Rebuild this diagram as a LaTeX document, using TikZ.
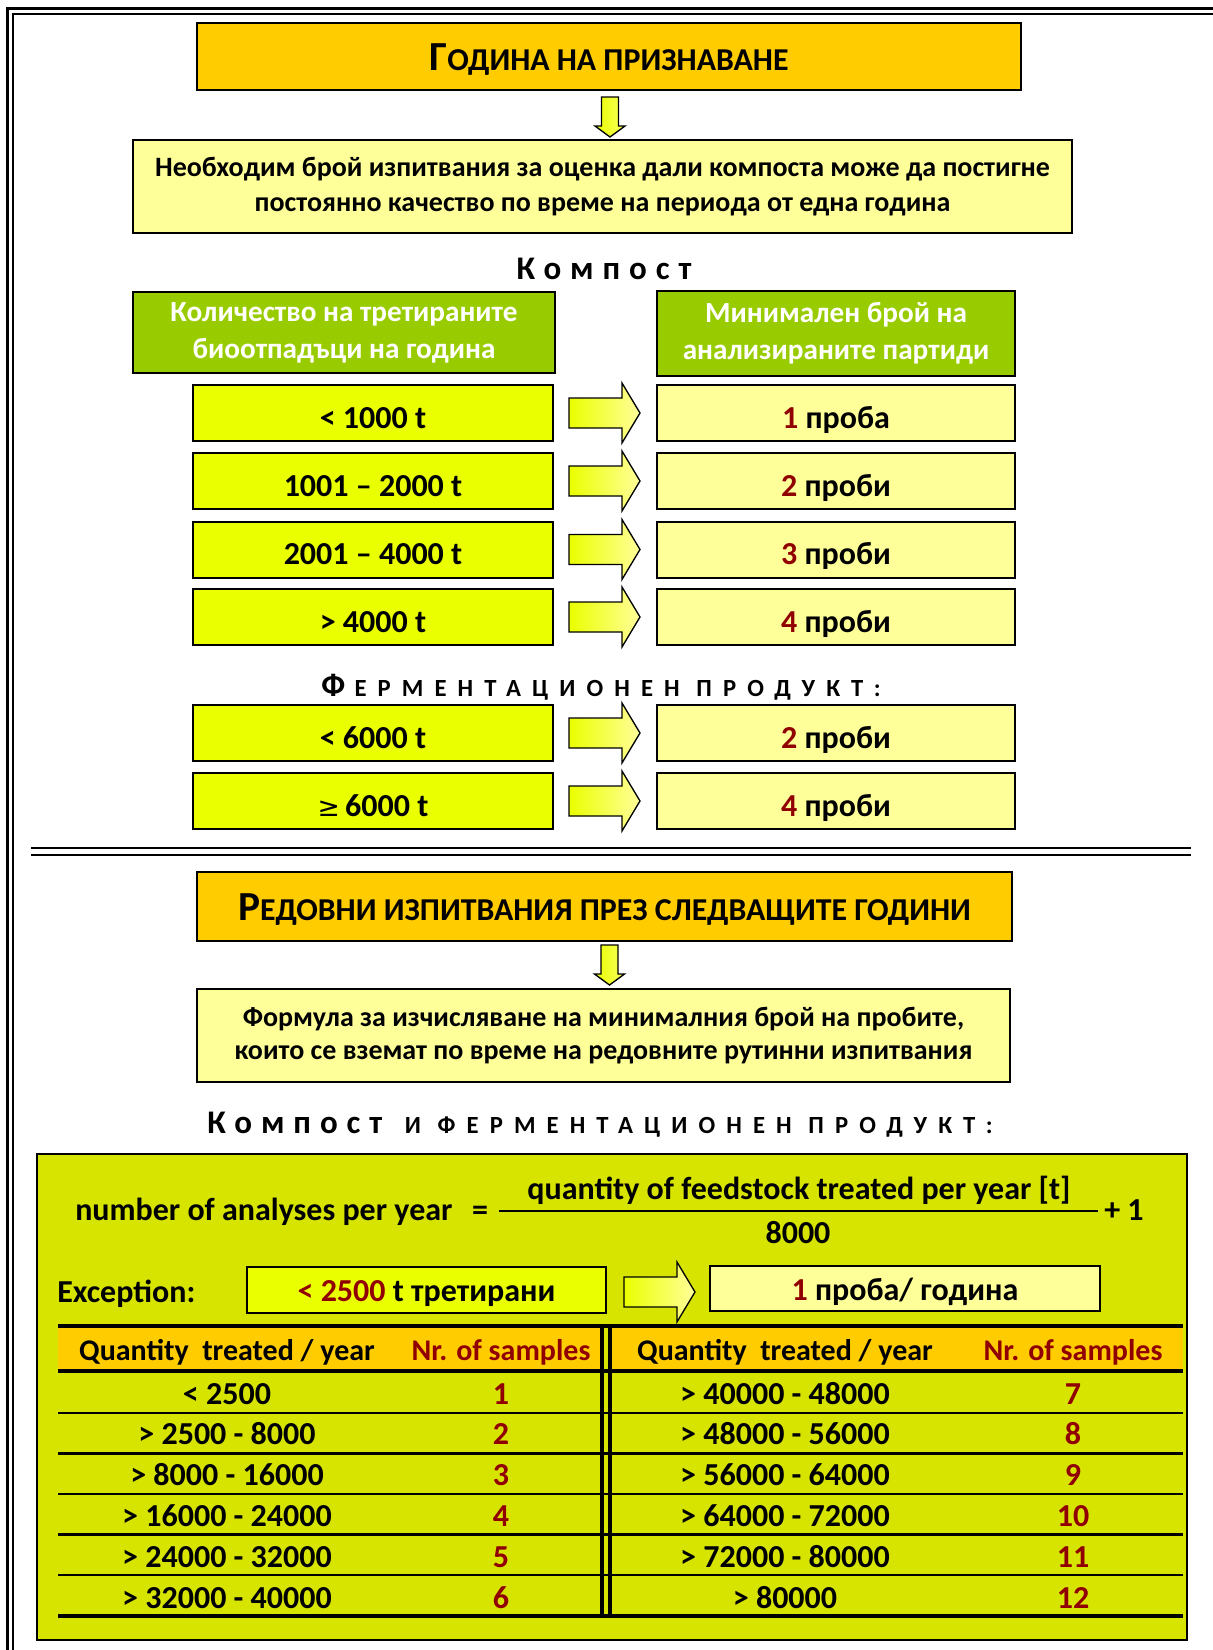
\documentclass[tikz,border=0pt]{standalone}
\usepackage{fontspec}
\setmainfont{Carlito}
\usetikzlibrary{calc}
\definecolor{orangeY}{HTML}{FFCC00}
\definecolor{grn}{HTML}{99CC00}
\definecolor{lyel}{HTML}{FFFF99}
\definecolor{byel}{HTML}{EAFF00}
\definecolor{lime}{HTML}{D7E400}
\definecolor{dred}{HTML}{900000}
\newcommand\fsz[2]{\fontsize{#1}{#2}\selectfont}
\tikzset{
  bx/.style={draw=black, line width=1.5pt, inner sep=0pt, font=\bfseries, align=center},
  sz/.style 2 args={minimum width=#1*0.75pt, minimum height=#2*0.75pt},
  ttlbox/.style={bx, fill=orangeY, text height=21.5pt, text depth=0pt, font=\bfseries\fsz{31pt}{34pt}},
  lybox/.style={bx, fill=lyel},
  grbox/.style={bx, fill=grn, text=white, font=\bfseries\fsz{21.9pt}{27.75pt}},
  rowl/.style={bx, fill=byel, text height=22.5pt, text depth=0pt, sz={360}{56}, font=\bfseries\fsz{24pt}{28pt}},
  rowr/.style={bx, fill=lyel, text height=22.5pt, text depth=0pt, sz={358}{56}, font=\bfseries\fsz{24pt}{28pt}},
  txt/.style={inner sep=0pt, font=\bfseries\fsz{24pt}{28pt}},
  rarr/.pic={\path[draw=black, line width=1pt, left color=byel, right color=lyel]
      (0,-15) -- (53,-15) -- (53,-30) -- (71,0) -- (53,30) -- (53,15) -- (0,15) -- cycle;},
  darr/.pic={\path[draw=black, line width=1pt, left color=byel, right color=lyel!60!byel]
      (-8.5,0) -- (-8.5,29) -- (-15,29) -- (0,40) -- (15,29) -- (8.5,29) -- (8.5,0) -- cycle;}
}
\begin{document}
\begin{tikzpicture}[x=0.75pt,y=-0.75pt]
\useasboundingbox (0,0) rectangle (1213,1650);
% outer frame
\draw[line width=2.25pt] (7.5,1650) -- (7.5,8.5) -- (1213,8.5);
\draw[line width=1.5pt] (12.5,1650) -- (12.5,14) -- (1213,14);

% ---------- section 1
\node[ttlbox, sz={824}{67}] (t1) at (609,56.5)
  {Г\fsz{23.9pt}{34pt}ОДИНА НА ПРИЗНАВАНЕ};
\pic at ($(t1.south)+(1,6)$) {darr};
\node[lybox, sz={939}{93}, font=\bfseries\fsz{21pt}{26.25pt}] (b2) at (602.5,186.5)
  {Необходим брой изпитвания за оценка дали компоста може да постигне\\
   постоянно качество по време на периода от една година};

\node[anchor=base, inner sep=0pt, font=\bfseries\fsz{24.75pt}{30pt}\addfontfeature{LetterSpace=27}] (hk) at (604,279) {Компост};

\node[grbox, sz={422}{81}] (gl) at (344,332.5)
  {Количество на третираните\\биоотпадъци на година};
\node[grbox, sz={358}{85}] (gr) at (836,333.5)
  {Минимален брой на\\анализираните партиди};

\node[rowl] (l1) at (373,413) {< 1000 t};
\node[rowl] (l2) at (373,481) {1001 – 2000 t};
\node[rowl] (l3) at (373,549.5) {2001 – 4000 t};
\node[rowl] (l4) at (373,617) {> 4000 t};
\node[rowr] (r1) at (836,413) {{\color{dred}1} проба};
\node[rowr] (r2) at (836,481) {{\color{dred}2} проби};
\node[rowr] (r3) at (836,549.5) {{\color{dred}3} проби};
\node[rowr] (r4) at (836,617) {{\color{dred}4} проби};

\node[anchor=base, inner sep=0pt, font=\bfseries\addfontfeature{LetterSpace=45}] (hf) at (601,696)
  {\fsz{24.75pt}{30pt}Ф\hspace{7pt}\fsz{18.5pt}{30pt}ЕРМЕНТАЦИОНЕН ПРОДУКТ:};

\node[rowl] (l5) at (373,733) {< 6000 t};
\node[rowl] (l6) at (373,801) {{\fontspec{DejaVu Sans}\mdseries\fsz{20pt}{28pt}≥}\,6000 t};
\node[rowr] (r5) at (836,733) {{\color{dred}2} проби};
\node[rowr] (r6) at (836,801) {{\color{dred}4} проби};

\foreach \i in {1,...,6}{\pic at ($(l\i.east)+(15,0)$) {rarr};}

% separator
\draw[line width=1.9pt] (31,848) -- (1191,848);
\draw[line width=1.9pt] (31,855) -- (1191,855);

% ---------- section 2
\node[ttlbox, sz={815}{69}] (t2) at (604.5,906.5)
  {Р\fsz{23.9pt}{34pt}ЕДОВНИ ИЗПИТВАНИЯ ПРЕЗ СЛЕДВАЩИТЕ ГОДИНИ};
\pic at ($(t2.south)+(5,3)$) {darr};
\node[lybox, sz={813}{93}, font=\bfseries\fsz{21pt}{24.75pt}] (b4) at (603.5,1035.5)
  {Формула за изчисляване на минималния брой на пробите,\\
   които се вземат по време на редовните рутинни изпитвания};

\node[anchor=base, inner sep=0pt, font=\bfseries] (h3) at (600,1133)
  {{\fsz{24.75pt}{30pt}\addfontfeature{LetterSpace=27}Компост}\hspace{17pt}{\fsz{18.5pt}{30pt}\addfontfeature{LetterSpace=45}И ФЕРМЕНТАЦИОНЕН ПРОДУКТ:}};

\node[draw=black, line width=1.5pt, fill=lime, sz={1150}{486}] (gbox) at (612,1397) {};

% formula
\node[txt, anchor=base west] (fl) at (75,1220) {number of analyses per year};
\node[txt, anchor=base] (feq) at (480,1220) {=};
\coordinate (fa) at (499,1211);
\coordinate (fb) at (1098,1211);
\draw[line width=1.5pt] (fa) -- (fb);
\node[txt, anchor=base] (fnum) at (799,1199) {quantity of feedstock treated per year [t]};
\node[txt, anchor=base] (fden) at (798,1243) {8000};
\node[txt, anchor=base west] (fplus) at (1104,1220) {+ 1};

% exception
\node[txt, anchor=base west] (exc) at (57,1302) {Exception:};
\node[bx, fill=byel, text height=17.5pt, text depth=0pt, sz={359}{46}, font=\bfseries\fsz{24pt}{28pt}] (el) at (426.5,1290)
  {{\color{dred}< 2500} t третирани};
\node[bx, fill=lyel, text height=17.5pt, text depth=0pt, sz={390}{45}, font=\bfseries\fsz{24pt}{28pt}] (er) at (905,1288.5)
  {{\color{dred}1} проба/ година};
\pic at ($(el.east)+(17,2)$) {rarr};

% table
\fill[orangeY] (58,1326) rectangle (601,1370);
\fill[orangeY] (611,1326) rectangle (1183,1370);
\draw[line width=3pt] (58,1325.5) -- (1183,1325.5);
\draw[line width=3pt] (58,1371) -- (1183,1371);
\foreach \yy in {1413,1453.5,1494,1534.5,1575}{\draw[line width=1.9pt] (58,\yy) -- (1183,\yy);}
\draw[line width=3.5pt] (58,1616) -- (1183,1616);
\draw[line width=3pt] (602,1324) -- (602,1618);
\draw[line width=2.6pt] (610,1324) -- (610,1618);

\node[txt, font=\bfseries\fsz{22.5pt}{28pt}, anchor=base] (hq1) at (227,1360) {Quantity\ \ treated / year};
\node[txt, font=\bfseries\fsz{22.5pt}{28pt}, anchor=base, text=dred] (hn1) at (501,1360) {Nr. of samples};
\node[txt, font=\bfseries\fsz{22.5pt}{28pt}, anchor=base] (hq2) at (785,1360) {Quantity\ \ treated / year};
\node[txt, font=\bfseries\fsz{22.5pt}{28pt}, anchor=base, text=dred] (hn2) at (1073,1360) {Nr. of samples};

\foreach \i/\q/\n in {1/{< 2500}/1, 2/{> 2500 - 8000}/2, 3/{> 8000 - 16000}/3,
                      4/{> 16000 - 24000}/4, 5/{> 24000 - 32000}/5, 6/{> 32000 - 40000}/6}{
  \node[txt, anchor=base] (lq\i) at (227,{1404+40.8*(\i-1)}) {\q};
  \node[txt, anchor=base, text=dred] (ln\i) at (501,{1404+40.8*(\i-1)}) {\n};
}
\foreach \i/\q/\n in {1/{> 40000 - 48000}/7, 2/{> 48000 - 56000}/8, 3/{> 56000 - 64000}/9,
                      4/{> 64000 - 72000}/10, 5/{> 72000 - 80000}/11, 6/{> 80000}/12}{
  \node[txt, anchor=base] (rq\i) at (785,{1404+40.8*(\i-1)}) {\q};
  \node[txt, anchor=base, text=dred] (rn\i) at (1073,{1404+40.8*(\i-1)}) {\n};
}
\end{tikzpicture}
\end{document}
